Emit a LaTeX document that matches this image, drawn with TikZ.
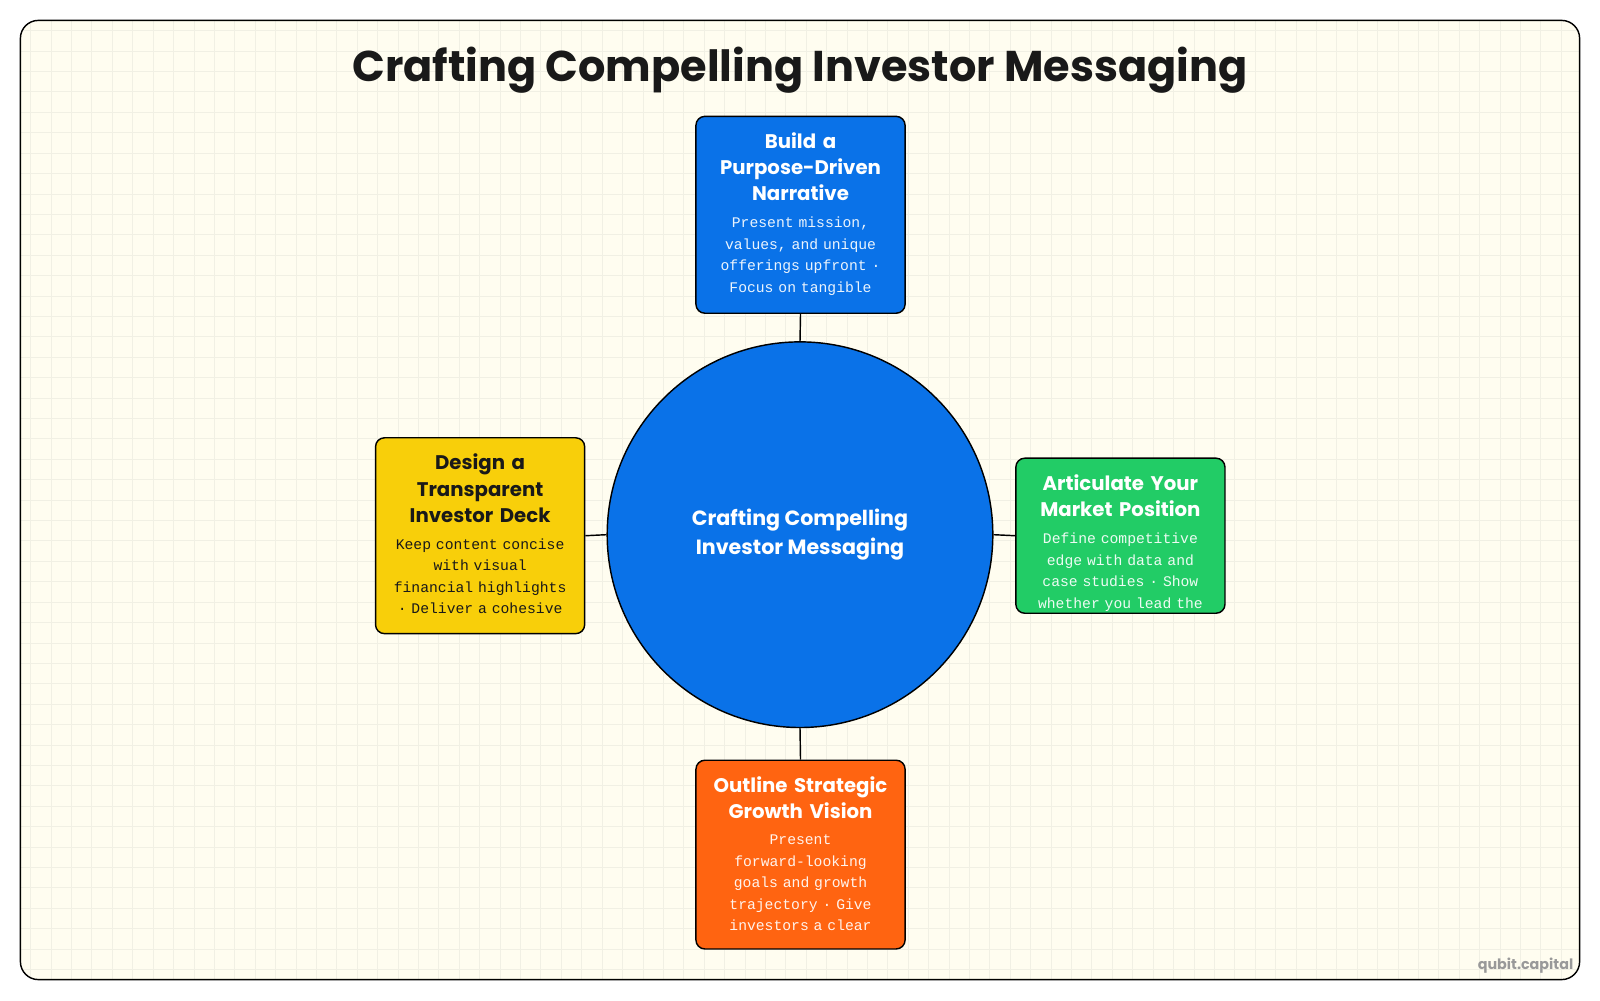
\documentclass[tikz,border=0pt]{standalone}
\usepackage{fontspec}
\setmainfont{Poppins}
\setmonofont{Liberation Mono}
\definecolor{paperBg}{HTML}{FFFDF0}
\definecolor{gridLine}{HTML}{F1F0E4}
\definecolor{blueHub}{HTML}{0A72E8}
\definecolor{yellowDeck}{HTML}{F8CF0A}
\definecolor{greenMarket}{HTML}{22CC66}
\definecolor{orangeGrowth}{HTML}{FF6411}
\usetikzlibrary{
  positioning,
  calc
}

\begin{document}
\begin{tikzpicture}[
    x = 0.02cm, y = -0.02cm,
    % Cards.
    card/.style = {
      draw = black, thick, rounded corners = 5pt,
      minimum width = 4.1cm, inner sep = 0pt
    },
    cardtitle/.style = {
      font = \bfseries\fontsize{11}{14.6}\selectfont,
      align = center, text width = 3.9cm
    },
    cardbody/.style = {
      font = \ttfamily\fontsize{8.2}{12}\selectfont,
      align = center, text width = 3.95cm
    },
    % Connectors.
    spoke/.style = {
      thick
    }
  ]
  % Background and grid.
  \useasboundingbox (0,0) rectangle (1568,980);
  \fill[white] (0,0) rectangle (1568,980);
  \fill[paperBg, rounded corners = 10pt] (20,20) rectangle (1548,960);
  \begin{scope}
    \clip[rounded corners = 10pt] (20,20) rectangle (1548,960);
    \foreach \gx in {30,50,...,1540} \draw[gridLine, thin] (\gx,20) -- (\gx,960);
    \foreach \gy in {30,50,...,950} \draw[gridLine, thin] (20,\gy) -- (1548,\gy);
  \end{scope}
  \draw[black, thick, rounded corners = 10pt] (20,20) rectangle (1548,960);

  % Title.
  \node[font = \bfseries\fontsize{24}{30}\selectfont, text = black!90] (title) at (784,69)
    {Crafting Compelling Investor Messaging};

  % Hub.
  \node[circle, draw = black, thick, fill = blueHub, minimum size = 7.56cm,
    text = white, align = center, font = \bfseries\fontsize{11.5}{16}\selectfont] (hub) at (784,524)
    {Crafting Compelling\\Investor Messaging};

  % Cards.
  \node[card, fill = blueHub, minimum height = 3.86cm] (narrative) at (784.5,210.5) {};
  \node[card, fill = yellowDeck, minimum height = 3.84cm] (deck) at (470.5,525) {};
  \node[card, fill = greenMarket, minimum height = 3.04cm] (market) at (1098,525) {};
  \node[card, fill = orangeGrowth, minimum height = 3.7cm] (growth) at (784.5,837.5) {};

  % Card texts.
  \node[cardtitle, text = white, below = 6pt of narrative.north] (narrativeT)
    {Build a\\Purpose-Driven\\Narrative};
  \node[cardbody, text = white!92!blueHub, below = 2pt of narrativeT] (narrativeB)
    {Present mission,\\values, and unique\\offerings upfront ·\\Focus on tangible};

  \node[cardtitle, text = black!90, below = 6pt of deck.north] (deckT)
    {Design a\\Transparent\\Investor Deck};
  \node[cardbody, text = black!90, below = 2pt of deckT] (deckB)
    {Keep content concise\\with visual\\financial highlights\\· Deliver a cohesive};

  \node[cardtitle, text = white, below = 6pt of market.north] (marketT)
    {Articulate Your\\Market Position};
  \node[cardbody, text = white!92!greenMarket, below = 2pt of marketT] (marketB)
    {Define competitive\\edge with data and\\case studies · Show\\whether you lead the};

  \node[cardtitle, text = white, below = 6pt of growth.north] (growthT)
    {Outline Strategic\\Growth Vision};
  \node[cardbody, text = white!92!orangeGrowth, below = 2pt of growthT] (growthB)
    {Present\\forward-looking\\goals and growth\\trajectory · Give\\investors a clear};

  % Spokes.
  \draw[spoke] (hub.north) -- (narrative.south);
  \draw[spoke] (hub.west) -- (deck.east);
  \draw[spoke] (hub.east) -- (market.west);
  \draw[spoke] (hub.south) -- (growth.north);

  % Watermark.
  \node[font = \bfseries\fontsize{8}{10}\selectfont, text = black!40] (mark) at (1495,946)
    {qubit.capital};
\end{tikzpicture}
\end{document}
